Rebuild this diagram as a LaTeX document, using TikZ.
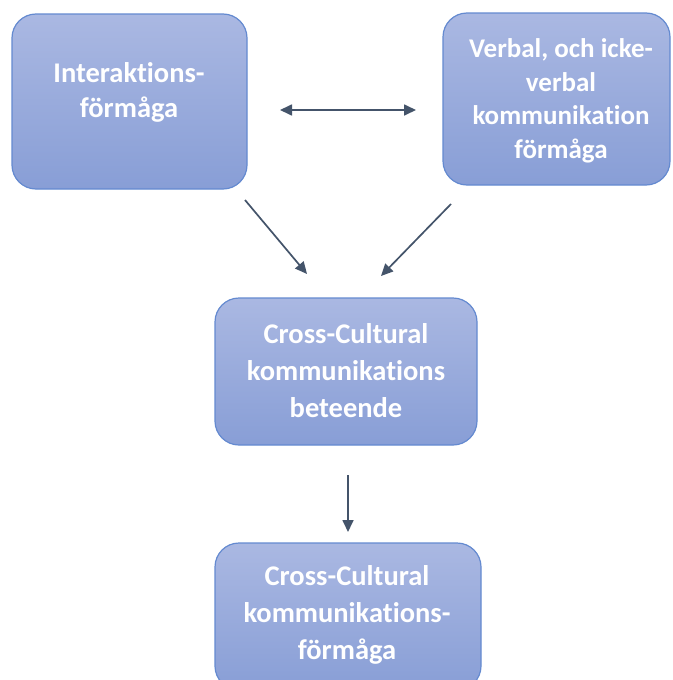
\documentclass[tikz,border=0pt]{standalone}
\usepackage{fontspec}
\setmainfont[Ligatures=NoCommon]{Carlito}
\usetikzlibrary{arrows.meta}
\definecolor{boxtop}{RGB}{170,184,226}
\definecolor{boxbot}{RGB}{136,158,214}
\definecolor{boxedge}{RGB}{100,138,208}
\definecolor{arrowcol}{RGB}{68,84,106}
\tikzset{
  flowbox/.style={draw=boxedge, line width=1.2pt, rounded corners=24pt,
    top color=boxtop, bottom color=boxbot, inner sep=0pt},
  boxtext/.style={text=white, font=\bfseries\fontsize{28.5}{37}\selectfont,
    align=center},
  link/.style={draw=arrowcol, line width=1.7pt,
    -{Triangle[length=12pt,width=11pt]}},
  duallink/.style={draw=arrowcol, line width=1.7pt,
    {Triangle[length=12pt,width=11pt]}-{Triangle[length=12pt,width=11pt]}}
}
\begin{document}
\begin{tikzpicture}[x=1pt,y=-1pt]
  \useasboundingbox (0,0) rectangle (672,680);
  \clip (0,0) rectangle (672,680);
  \fill[white] (0,0) rectangle (672,680);

  % boxes
  \draw[flowbox] (12,14) rectangle (247,189);
  \draw[flowbox] (443,13) rectangle (670,185);
  \draw[flowbox] (215,298) rectangle (477,445);
  \draw[flowbox] (215,543) rectangle (481,690);

  % labels
  \node[boxtext, font=\bfseries\fontsize{28.5}{35}\selectfont] (A) at (129,92)
    {Interaktions-\\förmåga};
  \node[boxtext, font=\bfseries\fontsize{27}{33.5}\selectfont] (B) at (561,101)
    {Verbal, och icke-\\verbal\\kommunikation\\förmåga};
  \node[boxtext] (C) at (346,371) {Cross-Cultural\\kommunikations\\beteende};
  \node[boxtext] (D) at (347,615) {Cross-Cultural\\kommunikations-\\förmåga};

  % connector end points
  \coordinate (ab1) at (280,110);
  \coordinate (ab2) at (416,110);
  \coordinate (ac1) at (245,200);
  \coordinate (ac2) at (307,274);
  \coordinate (bc1) at (451,204);
  \coordinate (bc2) at (381,276);
  \coordinate (cd1) at (348,475);
  \coordinate (cd2) at (348,532);

  % connectors
  \draw[duallink] (ab1) -- (ab2);
  \draw[link] (ac1) -- (ac2);
  \draw[link] (bc1) -- (bc2);
  \draw[link] (cd1) -- (cd2);
\end{tikzpicture}
\end{document}
